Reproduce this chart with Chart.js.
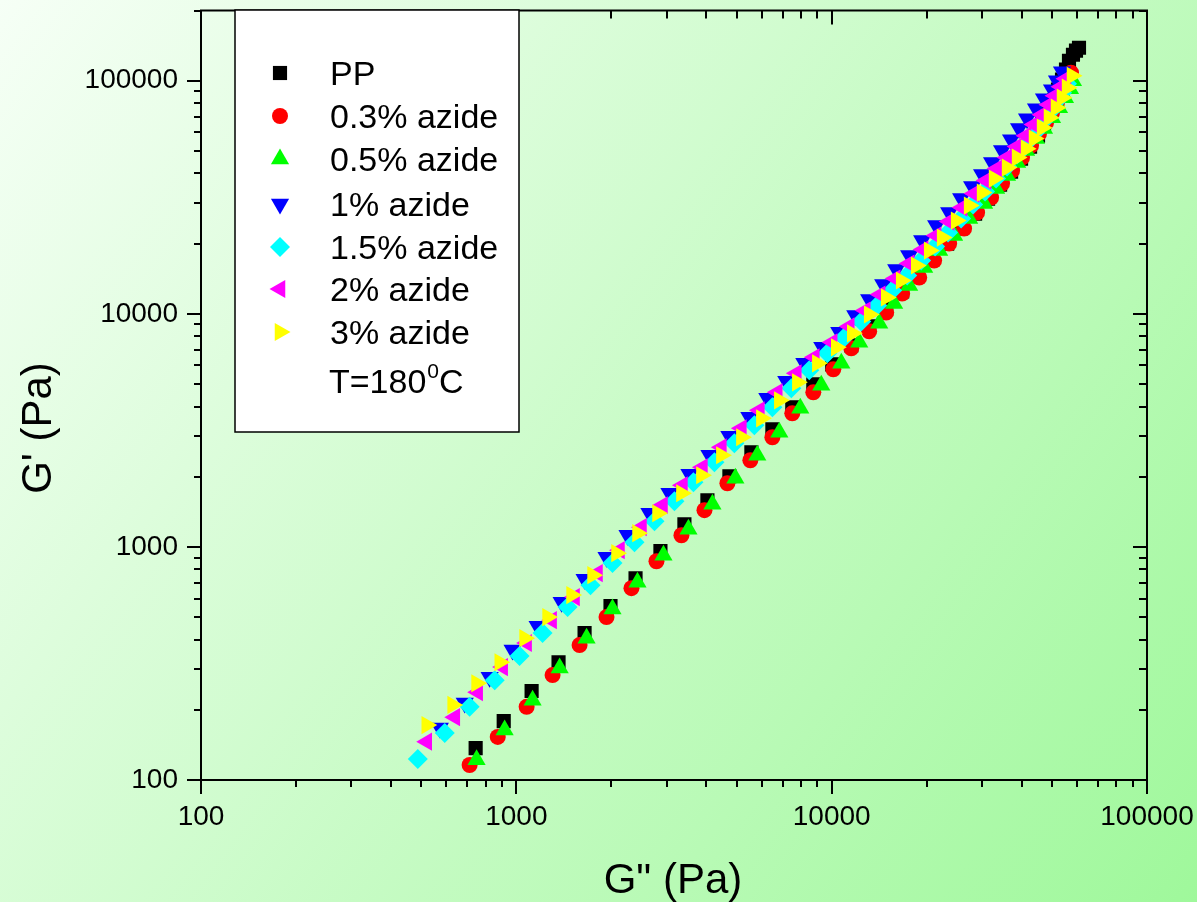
<!DOCTYPE html>
<html><head><meta charset="utf-8">
<script src="https://cdn.jsdelivr.net/npm/chart.js@4/dist/chart.umd.min.js"></script>
<style>html,body{margin:0;padding:0;overflow:hidden;background:#fff}canvas{display:block}</style>
</head><body>
<canvas id="c" width="1197" height="902"></canvas>
<script>
// ---- data (G'' in Pa on x, G' in Pa on y) ----
const categories = ['PP','0.3% azide','0.5% azide','1% azide','1.5% azide','2% azide','3% azide'];
const xTicks = [100, 1000, 10000, 100000];
const yTicks = [100, 1000, 10000, 100000];

const ppX = [743,912,1118,1361,1646,1989,2388,2864,3412,4036,4739,5564,6486,7500,8745,10040,11540,13150,14890,16730,18670,20830,23240,25740,28500,31330,34200,37060,39860,42570,45120,47140,48900,50710,52210,53760,55350,56570,58240,59540,60860];
const ppY = [137,179,241,320,427,557,734,959,1251,1586,2009,2547,3195,3970,4982,6070,7320,8830,10540,12460,14590,17090,20010,23210,26910,31200,35830,40740,46320,52140,58100,65430,73640,82100,91500,101000,111500,121800,129200,134500,138500];

const az03X = [711,873,1078,1303,1587,1932,2318,2782,3339,3950,4670,5523,6486,7500,8745,10120,11540,13150,14890,16730,18950,21130,23580,26300,28920,32030,34700,37340,40150,42880,45460,47840,49980,51830,53370,54950,56170,57410];
const az03Y = [116,153,206,282,379,500,665,868,1122,1437,1875,2353,2953,3742,4604,5775,7107,8408,10130,12220,14310,16920,20010,23210,27180,31510,36190,41140,46770,52650,59280,66070,72920,80500,87970,95200,102000,108200];

const az05X = [748,918,1126,1372,1670,2018,2422,2928,3514,4187,4950,5810,6823,7952,9268,10730,12230,14150,15780,17610,19650,21920,24450,27290,30440,33220,35990,38720,41350,44470,47140,49980,52600,54950,56990,58240];
const az05Y = [122,164,220,302,406,541,706,921,1191,1524,1970,2472,3101,3930,4933,6131,7542,9096,11070,13220,15790,18670,21650,25610,29710,34440,39150,44530,50120,56420,62280,69410,76600,84560,92400,100000];

const az1X = [572,686,823,973,1168,1392,1646,1932,2252,2643,3059,3540,4097,4739,5483,6252,7180,8190,9338,10570,11880,13150,14570,16020,17610,19360,21450,23580,25740,27890,29990,32260,34700,37060,39290,41650,44470,47140,49980,51830,53760];
const az1Y = [167,214,276,361,457,579,727,903,1122,1394,1699,2049,2472,2982,3597,4339,5132,6131,7178,8325,9840,11520,13350,15480,17780,20620,23900,27180,31200,35130,39550,44530,50120,55860,62280,68730,75860,83730,91500,100000,109300];

const az15X = [487,593,711,854,1024,1211,1454,1719,2018,2370,2743,3172,3644,4248,4915,5686,6486,7447,8492,9685,10960,12410,13940,15560,17360,19220,21290,23400,25740,28090,30650,33220,35990,38720,41350,44140,46800,49250,51450,53760,55770];
const az15Y = [123,159,206,268,340,427,552,685,852,1047,1289,1570,1894,2307,2783,3324,3970,4788,5720,6766,7920,9277,10850,12590,14590,16920,19430,22310,25610,29410,33440,38020,42800,48170,53700,59850,66720,73640,81280,88850,97100];

const az2X = [520,638,754,905,1078,1294,1530,1809,2124,2494,2907,3364,3892,4470,5172,5898,6722,7725,8810,10040,11370,12780,14250,15900,17610,19500,21450,23580,25930,28290,30880,33460,35990,38720,41350,43820,46470,48900,51080,53370,55350];
const az2Y = [146,186,238,305,387,485,609,772,968,1215,1509,1838,2196,2675,3227,3853,4604,5553,6504,7542,8830,10330,12100,14170,16430,18860,21650,24860,28550,32790,37270,41960,46770,52140,58100,64790,71500,78900,86250,94260,102000];

const az3X = [520,628,748,886,1062,1256,1497,1745,2078,2422,2803,3339,3864,4470,5172,5984,6823,7780,9005,10340,11620,13150,14890,16610,18540,20380,22400,24810,27290,29990,32730,35990,38720,41350,43820,46470,48900,51450,53760,55770,57830];
const az3Y = [172,210,260,320,406,500,621,756,940,1145,1394,1699,2029,2472,2953,3562,4255,5082,6131,7178,8241,9940,11750,13890,16110,18670,21230,25110,29120,33110,38020,42380,46770,51100,56420,62890,69410,76600,84560,93330,105000];

// ---- styles ----
const seriesX = [ppX, az03X, az05X, az1X, az15X, az2X, az3X];
const seriesY = [ppY, az03Y, az05Y, az1Y, az15Y, az2Y, az3Y];
const colors = ['#000000','#ff0000','#00ff00','#0000ff','#00ffff','#ff00ff','#ffff00'];
const pStyles = ['rect','circle','triangle','triangle','rectRot','triangle','triangle'];
const pRot = [0,0,0,180,0,270,90];
const pRad = [10,8,10.5,10.5,10,10.5,10.5];
const FONT = "'Liberation Sans', Arial, Helvetica, sans-serif";

const datasets = categories.map((name, i) => ({
  label: name,
  data: seriesX[i].map((x, j) => ({x: x, y: seriesY[i][j]})),
  backgroundColor: colors[i],
  borderColor: colors[i],
  pointStyle: pStyles[i],
  pointRotation: pRot[i],
  pointRadius: pRad[i],
  pointHoverRadius: pRad[i],
  pointBorderWidth: 0,
  showLine: false,
  order: 6 - i
}));

function drawMarker(ctx, style, rot, r, x, y, color) {
  ctx.save();
  ctx.fillStyle = color;
  ctx.beginPath();
  const rad = rot * Math.PI / 180;
  if (style === 'circle') {
    ctx.arc(x, y, r, 0, Math.PI * 2);
  } else if (style === 'rect') {
    const s = Math.SQRT1_2 * r;
    ctx.rect(x - s, y - s, 2 * s, 2 * s);
  } else if (style === 'rectRot') {
    ctx.moveTo(x, y - r); ctx.lineTo(x + r, y); ctx.lineTo(x, y + r); ctx.lineTo(x - r, y);
  } else {
    let a = rad;
    ctx.moveTo(x + Math.sin(a) * r, y - Math.cos(a) * r);
    a += 2 * Math.PI / 3;
    ctx.lineTo(x + Math.sin(a) * r, y - Math.cos(a) * r);
    a += 2 * Math.PI / 3;
    ctx.lineTo(x + Math.sin(a) * r, y - Math.cos(a) * r);
  }
  ctx.closePath();
  ctx.fill();
  ctx.restore();
}

const bgPlugin = {
  id: 'bg',
  beforeDraw(chart) {
    const ctx = chart.ctx;
    const g = ctx.createLinearGradient(0, 0, chart.width, chart.height);
    g.addColorStop(0, '#f6fff6');
    g.addColorStop(1, '#9ff89b');
    ctx.save();
    ctx.fillStyle = g;
    ctx.fillRect(0, 0, chart.width, chart.height);
    ctx.restore();
  }
};

const framePlugin = {
  id: 'frame',
  afterDatasetsDraw(chart) {
    const {ctx, chartArea: a, scales: {x, y}} = chart;
    ctx.save();
    ctx.strokeStyle = '#000';
    ctx.lineWidth = 2;
    ctx.beginPath();
    const MAJ = 14, MIN = 7, TMIN = 8;
    for (let e = 2; e <= 5; e++) {
      for (let m = 1; m <= 9; m++) {
        const v = m * Math.pow(10, e);
        if (v > 100000) continue;
        const px = Math.round(x.getPixelForValue(v));
        const L = m === 1 ? MAJ : MIN;
        ctx.moveTo(px, a.bottom); ctx.lineTo(px, a.bottom + L);
        const T = m === 1 ? MAJ : TMIN;
        ctx.moveTo(px, a.top); ctx.lineTo(px, a.top + T);
      }
    }
    for (let e = 2; e <= 5; e++) {
      for (let m = 1; m <= 9; m++) {
        const v = m * Math.pow(10, e);
        if (v > 200000) continue;
        const py = Math.round(y.getPixelForValue(v));
        const L = m === 1 ? MAJ : MIN;
        ctx.moveTo(a.left, py); ctx.lineTo(a.left - L, py);
        const T = m === 1 ? MAJ : TMIN;
        ctx.moveTo(a.right, py); ctx.lineTo(a.right - T, py);
      }
    }
    ctx.stroke();
    ctx.strokeRect(a.left, a.top, a.right - a.left, a.bottom - a.top);
    ctx.restore();
  }
};

const legendPlugin = {
  id: 'customLegend',
  afterDraw(chart) {
    const ctx = chart.ctx;
    ctx.save();
    ctx.fillStyle = '#ffffff';
    ctx.fillRect(235, 10, 284, 422);
    ctx.strokeStyle = '#000';
    ctx.lineWidth = 1.5;
    ctx.strokeRect(235, 10, 284, 422);
    const rows = [73, 116, 159, 204, 247, 289, 332];
    ctx.font = '34px ' + FONT;
    ctx.fillStyle = '#000';
    ctx.textAlign = 'left';
    ctx.textBaseline = 'alphabetic';
    categories.forEach((name, i) => {
      drawMarker(ctx, pStyles[i], pRot[i], pRad[i], 280, rows[i], colors[i]);
      ctx.fillStyle = '#000';
      ctx.fillText(name, 330, rows[i] + 12);
    });
    // temperature note with superscript
    const base = 393;
    let xx = 329;
    ctx.font = '34px ' + FONT;
    ctx.fillText('T=180', xx, base);
    xx += ctx.measureText('T=180').width + 1;
    ctx.font = '21px ' + FONT;
    ctx.fillText('0', xx, base - 15);
    xx += ctx.measureText('0').width;
    ctx.font = '34px ' + FONT;
    ctx.fillText('C', xx, base);
    ctx.restore();
  }
};

const titlePlugin = {
  id: 'axisTitles',
  afterDraw(chart) {
    const ctx = chart.ctx;
    ctx.save();
    ctx.fillStyle = '#000';
    ctx.font = '42px ' + FONT;
    ctx.textAlign = 'center';
    ctx.textBaseline = 'alphabetic';
    ctx.fillText('G" (Pa)', 673, 893);
    ctx.translate(51, 428);
    ctx.rotate(-Math.PI / 2);
    ctx.fillText("G' (Pa)", 0, 0);
    ctx.restore();
  }
};

function zeroPad(scale) {
  scale.paddingTop = 0; scale.paddingBottom = 0;
  scale.paddingLeft = 0; scale.paddingRight = 0;
}

new Chart(document.getElementById('c'), {
  type: 'scatter',
  data: { datasets: datasets },
  options: {
    responsive: false,
    animation: false,
    devicePixelRatio: 1,
    events: [],
    layout: { padding: { top: 10, right: 50, left: 0, bottom: 0 } },
    plugins: { legend: { display: false }, tooltip: { enabled: false } },
    scales: {
      x: {
        type: 'logarithmic', position: 'bottom', min: 100, max: 100000,
        grid: { display: false, drawTicks: false },
        border: { display: false },
        afterBuildTicks: s => { s.ticks = xTicks.map(v => ({ value: v })); },
        afterFit: s => { s.height = 122; zeroPad(s); },
        ticks: {
          autoSkip: false, maxRotation: 0, padding: 20,
          color: '#000', font: { family: FONT, size: 28 },
          callback: v => String(v)
        }
      },
      y: {
        type: 'logarithmic', position: 'left', min: 100, max: 200000,
        grid: { display: false, drawTicks: false },
        border: { display: false },
        afterBuildTicks: s => { s.ticks = yTicks.map(v => ({ value: v })); },
        afterFit: s => { s.width = 201; zeroPad(s); },
        ticks: {
          autoSkip: false, padding: 23,
          color: '#000', font: { family: FONT, size: 28 },
          callback: v => String(v)
        }
      }
    }
  },
  plugins: [bgPlugin, framePlugin, legendPlugin, titlePlugin]
});
</script>
</body></html>
